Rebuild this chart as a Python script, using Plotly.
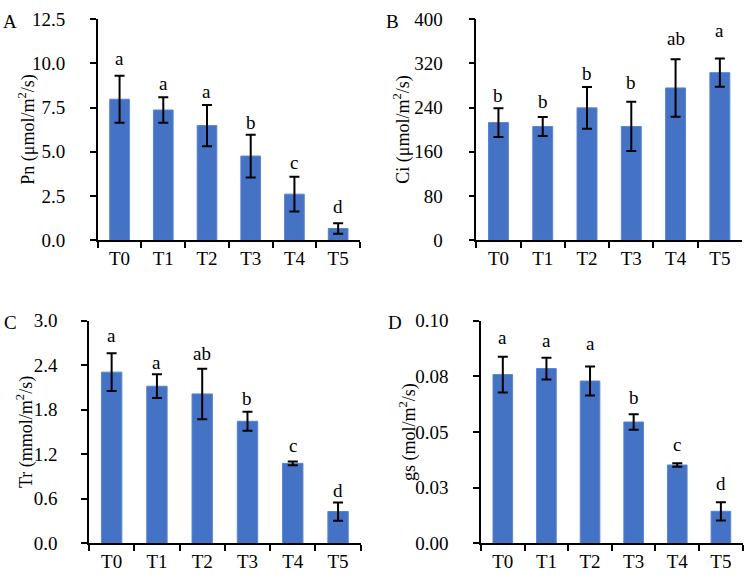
import plotly.graph_objects as go

categories = ["T0", "T1", "T2", "T3", "T4", "T5"]

pn_values = [7.97, 7.36, 6.48, 4.76, 2.61, 0.67]
pn_errors = [1.33, 0.72, 1.16, 1.21, 0.98, 0.30]
pn_letters = ["a", "a", "a", "b", "c", "d"]
pn_letter_y = [9.89, 8.47, 8.02, 6.30, 4.03, 1.52]

ci_values = [212.8, 205.8, 239.4, 205.8, 275.4, 303.0]
ci_errors = [26.0, 17.0, 37.5, 44.5, 52.0, 25.5]
ci_letters = ["b", "b", "b", "b", "ab", "a"]
ci_letter_y = [250.8, 239.1, 289.6, 273.9, 352.3, 366.9]

tr_values = [2.307, 2.117, 2.013, 1.645, 1.078, 0.429]
tr_errors = [0.255, 0.160, 0.340, 0.127, 0.024, 0.123]
tr_letters = ["a", "a", "ab", "b", "c", "d"]
tr_letter_y = [2.718, 2.351, 2.468, 1.870, 1.234, 0.627]

gs_values = [0.0758, 0.0785, 0.0729, 0.0545, 0.0352, 0.0144]
gs_errors = [0.0080, 0.0049, 0.0065, 0.0035, 0.0008, 0.0041]
gs_letters = ["a", "a", "a", "b", "c", "d"]
gs_letter_y = [0.0894, 0.0883, 0.0870, 0.0628, 0.0416, 0.0238]

pn_ticks = [0, 2.5, 5.0, 7.5, 10.0, 12.5]
pn_ticktext = ["0.0", "2.5", "5.0", "7.5", "10.0", "12.5"]
ci_ticks = [0, 80, 160, 240, 320, 400]
ci_ticktext = ["0", "80", "160", "240", "320", "400"]
tr_ticks = [0, 0.6, 1.2, 1.8, 2.4, 3.0]
tr_ticktext = ["0.0", "0.6", "1.2", "1.8", "2.4", "3.0"]
gs_ticks = [0, 0.025, 0.05, 0.075, 0.1]
gs_ticktext = ["0.00", "0.03", "0.05", "0.08", "0.10"]

W, H = 744, 583
FONT = "Liberation Serif, Times New Roman, serif"
BLUE = "#4472C4"
FS = 19

panels = [
    dict(name="A", vals=pn_values, errs=pn_errors, letters=pn_letters, ly_=pn_letter_y, ticks=pn_ticks, ticktext=pn_ticktext,
         rng=[0, 12.5], title="Pn (μmol/m<sup>2</sup>/s)", x0=97.7, x1=360, y0=9.3, y1=239, lx=1, ly=12, tx=27, so=21),
    dict(name="B", vals=ci_values, errs=ci_errors, letters=ci_letters, ly_=ci_letter_y, ticks=ci_ticks, ticktext=ci_ticktext,
         rng=[0, 400], title="Ci (μmol/m<sup>2</sup>/s)", x0=476.3, x1=742, y0=9.3, y1=239, lx=384, ly=12, tx=402, so=22),
    dict(name="C", vals=tr_values, errs=tr_errors, letters=tr_letters, ly_=tr_letter_y, ticks=tr_ticks, ticktext=tr_ticktext,
         rng=[0, 3.0], title="Tr (mmol/m<sup>2</sup>/s)", x0=89, x1=360.7, y0=322.3, y1=553.3, lx=2, ly=324, tx=25, so=20),
    dict(name="D", vals=gs_values, errs=gs_errors, letters=gs_letters, ly_=gs_letter_y, ticks=gs_ticks, ticktext=gs_ticktext,
         rng=[0, 0.1], title="gs (mol/m<sup>2</sup>/s)", x0=481, x1=742.7, y0=322.3, y1=553.3, lx=386, ly=324, tx=408, so=21),
]

fig = go.Figure()
annotations = []
layout = {}
for i, p in enumerate(panels, start=1):
    xa = "x" if i == 1 else f"x{i}"
    ya = "y" if i == 1 else f"y{i}"
    fig.add_trace(go.Bar(
        x=categories, y=p["vals"], xaxis=xa, yaxis=ya,
        marker=dict(color=BLUE, line=dict(color="#5B84CC", width=1)),
        error_y=dict(type="data", array=p["errs"], visible=True, color="black", thickness=2, width=5),
        showlegend=False,
    ))
    xk = "xaxis" if i == 1 else f"xaxis{i}"
    yk = "yaxis" if i == 1 else f"yaxis{i}"
    layout[xk] = dict(
        domain=[p["x0"] / W, p["x1"] / W], anchor=ya, type="category", range=[-0.5, 5.5],
        showline=True, linecolor="black", linewidth=1.5, ticks="outside", tickson="boundaries",
        ticklen=6, tickwidth=1.5, tickcolor="black", showgrid=False, zeroline=False,
        tickfont=dict(family=FONT, size=FS, color="black"),
    )
    layout[yk] = dict(
        domain=[1 - p["y1"] / H, 1 - p["y0"] / H], anchor=xa, range=p["rng"],
        tickmode="array", tickvals=p["ticks"], ticktext=p["ticktext"],
        showline=True, linecolor="black", linewidth=1.5, ticks="outside", ticklen=6, tickwidth=1.5,
        tickcolor="black", showgrid=False, zeroline=False, ticklabelposition="outside",
        tickfont=dict(family=FONT, size=FS, color="black"), ticklabelstandoff=p["so"],
    )
    annotations.append(dict(
        text=p["title"], x=p["tx"] / W, y=1 - (p["y0"] + p["y1"]) / 2 / H, xref="paper", yref="paper",
        textangle=-90, showarrow=False, xanchor="center", yanchor="middle",
        font=dict(family=FONT, size=18, color="black"),
    ))
    annotations.append(dict(
        text=p["name"], x=p["lx"] / W, y=1 - p["ly"] / H, xref="paper", yref="paper",
        showarrow=False, xanchor="left", yanchor="middle",
        font=dict(family=FONT, size=19, color="black"),
    ))
    for c, ly, l in zip(categories, p["ly_"], p["letters"]):
        annotations.append(dict(
            text=l, x=c, y=ly, xref=xa, yref=ya, showarrow=False,
            xanchor="center", yanchor="bottom", yshift=-6,
            font=dict(family=FONT, size=FS, color="black"),
        ))

fig.update_layout(
    width=W, height=H, margin=dict(l=0, r=0, t=0, b=0),
    paper_bgcolor="white", plot_bgcolor="white", bargap=0.55,
    annotations=annotations, **layout,
)
fig.write_html(
    "out.html",
    config={"displayModeBar": False},
    post_script="document.body.style.margin='0px';document.body.style.overflow='hidden';",
)
